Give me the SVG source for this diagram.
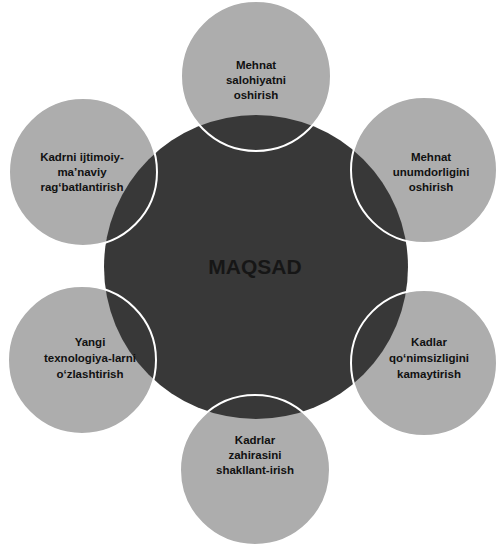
<svg xmlns="http://www.w3.org/2000/svg" width="497" height="546" viewBox="0 0 497 546">
<style>
.sat{fill:#adadad}
.ring{fill:none;stroke:#ffffff;stroke-width:2}
.core{fill:#383838}
.lbl{font-family:"Liberation Sans",Arial,sans-serif;font-weight:bold;font-size:11.5px;fill:#111111;text-anchor:middle}
.main{font-family:"Liberation Sans",Arial,sans-serif;font-weight:bold;font-size:21px;fill:#161616;text-anchor:middle}
</style>
<rect width="497" height="546" fill="#ffffff"/>
<g id="fills">
<circle class="sat" cx="256" cy="76" r="75"/>
<circle class="sat" cx="424" cy="170" r="73"/>
<circle class="sat" cx="83" cy="172" r="74"/>
<circle class="sat" cx="82" cy="360" r="74"/>
<circle class="sat" cx="424" cy="363" r="73"/>
<circle class="sat" cx="255" cy="470" r="75"/>
</g>
<g id="center">
<circle class="core" cx="256" cy="267" r="152"/>
<text class="main" x="255" y="274">MAQSAD</text>
</g>
<g id="connectors"></g>
<g id="n-top">
<circle class="ring" cx="256" cy="76" r="75"/>
<text class="lbl" x="256" y="69">Mehnat</text>
<text class="lbl" x="256" y="84">salohiyatni</text>
<text class="lbl" x="256" y="99">oshirish</text>
</g>
<g id="n-topright">
<circle class="ring" cx="424" cy="170" r="73"/>
<text class="lbl" x="431" y="161">Mehnat</text>
<text class="lbl" x="431" y="176">unumdorligini</text>
<text class="lbl" x="431" y="191">oshirish</text>
</g>
<g id="n-topleft">
<circle class="ring" cx="83" cy="172" r="74"/>
<text class="lbl" x="82" y="161">Kadrni ijtimoiy-</text>
<text class="lbl" x="82" y="176">ma’naviy</text>
<text class="lbl" x="82" y="191">rag‘batlantirish</text>
</g>
<g id="n-bottomleft">
<circle class="ring" cx="82" cy="360" r="74"/>
<text class="lbl" x="90" y="346">Yangi</text>
<text class="lbl" x="90" y="362">texnologiya-larni</text>
<text class="lbl" x="90" y="378">o‘zlashtirish</text>
</g>
<g id="n-bottomright">
<circle class="ring" cx="424" cy="363" r="73"/>
<text class="lbl" x="429" y="346">Kadlar</text>
<text class="lbl" x="429" y="362">qo‘nimsizligini</text>
<text class="lbl" x="429" y="378">kamaytirish</text>
</g>
<g id="n-bottom">
<circle class="ring" cx="255" cy="470" r="75"/>
<text class="lbl" x="255" y="444">Kadrlar</text>
<text class="lbl" x="255" y="459">zahirasini</text>
<text class="lbl" x="255" y="474">shakllant-irish</text>
</g>
</svg>
